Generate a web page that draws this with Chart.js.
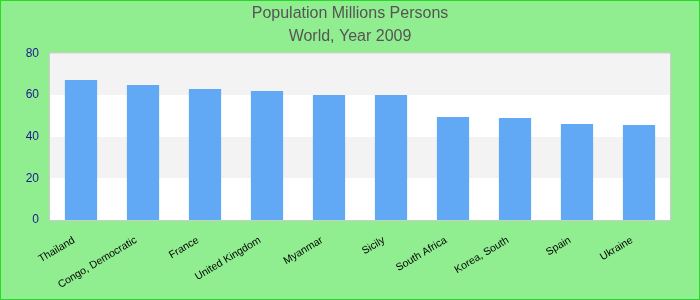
<!DOCTYPE html>
<html>
<head>
<meta charset="utf-8">
<script src="https://cdn.jsdelivr.net/npm/chart.js@4"></script>
<style>
  html, body { margin: 0; padding: 0; background: #90ee90; }
  #wrap { width: 700px; height: 300px; }
</style>
</head>
<body>
<div id="wrap"><canvas id="myChart" width="700" height="300"></canvas></div>
<script>
const countries = ['Thailand', 'Congo, Democratic', 'France', 'United Kingdom', 'Myanmar',
    'Sicily', 'South Africa', 'Korea, South', 'Spain', 'Ukraine'];
const population = [67.2, 64.8, 62.9, 61.9, 60.0, 60.0, 49.4, 49.0, 46.1, 45.6];
const yTicks = [0, 20, 40, 60, 80];
const titleLines = ['Population Millions Persons', 'World, Year 2009'];

// alternating bands behind the bars, plus plot frame and page border
const bandsPlugin = {
    id: 'bands',
    beforeDatasetsDraw(chart) {
        const ctx = chart.ctx;
        const area = chart.chartArea;
        const y = chart.scales.y;
        ctx.save();
        ctx.fillStyle = '#ffffff';
        ctx.fillRect(area.left, area.top, area.right - area.left, area.bottom - area.top);
        for (let i = 1; i < yTicks.length - 1; i += 2) {
            const top = Math.round(y.getPixelForValue(yTicks[i + 1]));
            const bottom = Math.round(y.getPixelForValue(yTicks[i]));
            ctx.fillStyle = '#f3f3f3';
            ctx.fillRect(area.left, top, area.right - area.left, bottom - top);
        }
        ctx.restore();
    },
    afterDraw(chart) {
        const ctx = chart.ctx;
        const area = chart.chartArea;
        ctx.save();
        ctx.strokeStyle = '#cccccc';
        ctx.lineWidth = 1;
        ctx.strokeRect(area.left - 0.5, area.top - 0.5, area.right - area.left + 1, area.bottom - area.top + 1);
        ctx.strokeStyle = '#22dd22';
        ctx.strokeRect(0.5, 0.5, chart.width - 1, chart.height - 1);
        ctx.restore();
    }
};

var ctx = document.getElementById('myChart');
var myChart = new Chart(ctx, {
    type: 'bar',
    data: {
        labels: countries,
        datasets: [{
            label: 'Population',
            data: population,
            backgroundColor: '#62a9f5',
            borderWidth: 0,
            categoryPercentage: 1.0,
            barPercentage: 0.52
        }]
    },
    options: {
        responsive: false,
        animation: false,
        layout: {
            padding: { left: 0, right: 0, top: 0, bottom: 0 }
        },
        plugins: {
            legend: { display: false },
            tooltip: { enabled: false },
            title: {
                display: true,
                text: titleLines,
                color: '#555555',
                font: { family: 'Liberation Sans, Arial, sans-serif', size: 16, weight: 'normal', lineHeight: 1.45 },
                padding: { top: 2, bottom: 5 }
            }
        },
        scales: {
            x: {
                grid: { display: false },
                border: { display: false },
                ticks: {
                    color: '#000000',
                    font: { family: 'Liberation Sans, Arial, sans-serif', size: 10.5 },
                    minRotation: 31,
                    maxRotation: 31,
                    autoSkip: false,
                    labelOffset: -7,
                    padding: 6
                },
                afterFit(scale) { scale.height = 80; }
            },
            y: {
                min: 0,
                max: 80,
                grid: { display: false },
                border: { display: false },
                afterBuildTicks(scale) { scale.ticks = yTicks.map(v => ({ value: v })); },
                ticks: {
                    color: '#1a1a8c',
                    font: { family: 'Liberation Sans, Arial, sans-serif', size: 12 },
                    padding: 3
                },
                afterFit(scale) { scale.width = 50; }
            },
            // empty right axis, only keeps space at the right of the plot
            yRight: {
                position: 'right',
                grid: { display: false },
                border: { display: false },
                ticks: { display: false },
                afterFit(scale) { scale.width = 30; }
            }
        }
    },
    plugins: [bandsPlugin]
});
</script>
</body>
</html>
